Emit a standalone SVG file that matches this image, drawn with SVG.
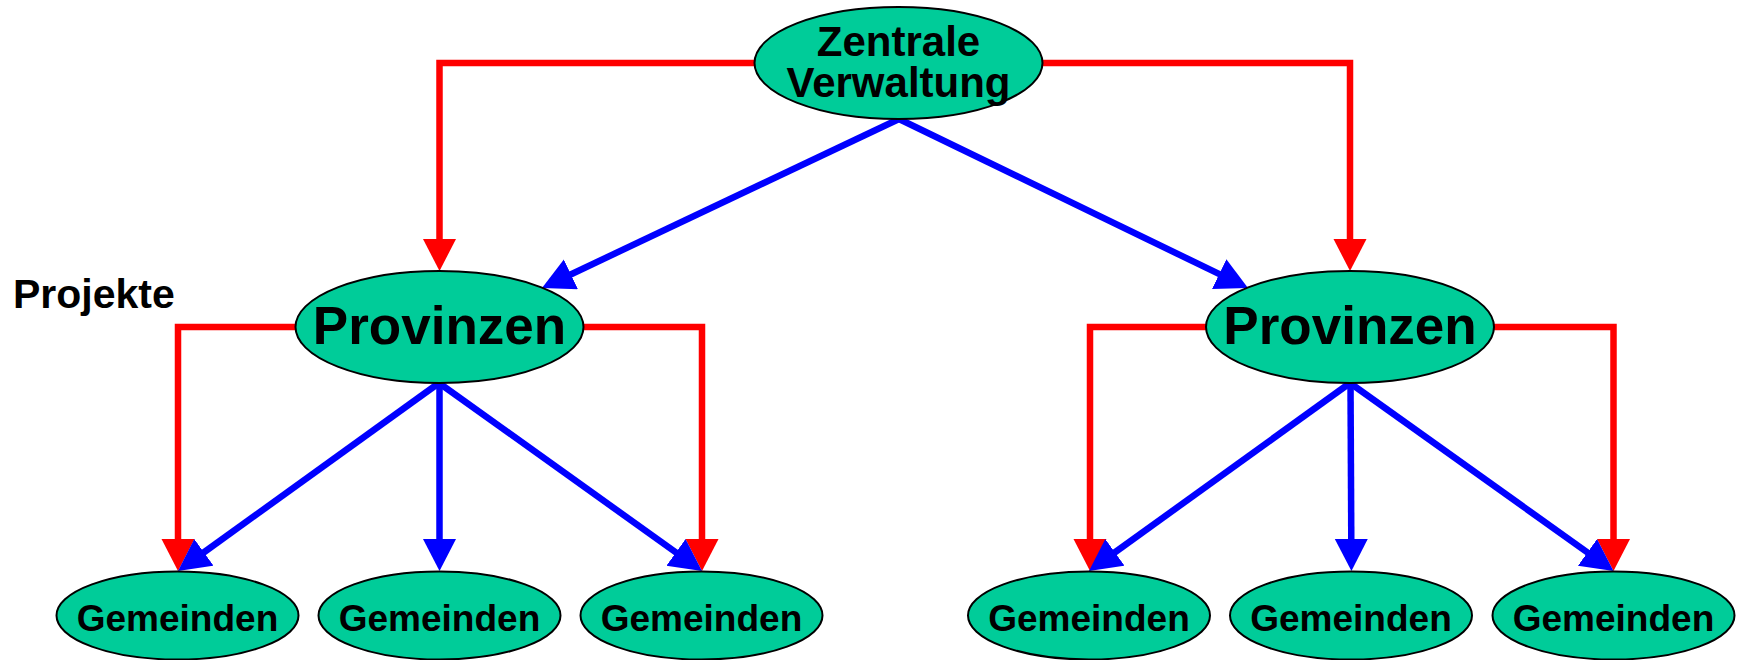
<svg xmlns="http://www.w3.org/2000/svg" width="1738" height="660" viewBox="0 0 1738 660">
<defs>
<style>
.node{fill:#00CC99;stroke:#000;stroke-width:2}
.t{font-family:"Liberation Sans",Arial,sans-serif;font-weight:bold;fill:#000;text-anchor:middle}
.red{fill:none;stroke:#FF0000;stroke-width:6.5}
.blue{fill:none;stroke:#0000FF;stroke-width:6.5}
</style>
<marker id="ar" markerUnits="userSpaceOnUse" markerWidth="34" markerHeight="34" refX="2" refY="16.5" orient="auto" viewBox="0 0 34 34">
<path d="M0,0 L32,16.5 L0,33 z" fill="#FF0000"/>
</marker>
<marker id="ab" markerUnits="userSpaceOnUse" markerWidth="34" markerHeight="34" refX="2" refY="16.5" orient="auto" viewBox="0 0 34 34">
<path d="M0,0 L32,16.5 L0,33 z" fill="#0000FF"/>
</marker>
</defs>
<rect width="1738" height="660" fill="#fff"/>
<g id="connectors">
<path class="red" d="M760,63 H439.5 V241" marker-end="url(#ar)"/>
<path class="red" d="M1037,63 H1350 V241" marker-end="url(#ar)"/>
<path class="red" d="M300,327 H178 V541" marker-end="url(#ar)"/>
<path class="red" d="M578,327 H702 V541" marker-end="url(#ar)"/>
<path class="red" d="M1212,327 H1090 V541" marker-end="url(#ar)"/>
<path class="red" d="M1488,327 H1613.5 V541" marker-end="url(#ar)"/>
<path class="blue" d="M899,119 L569.1,275.2" marker-end="url(#ab)"/>
<path class="blue" d="M899,119 L1221,274.9" marker-end="url(#ab)"/>
<path class="blue" d="M439,383 L202.3,553.5" marker-end="url(#ab)"/>
<path class="blue" d="M439.5,383 L439.5,541" marker-end="url(#ab)"/>
<path class="blue" d="M439,383 L677.6,553.6" marker-end="url(#ab)"/>
<path class="blue" d="M1350,383 L1113.3,553.5" marker-end="url(#ab)"/>
<path class="blue" d="M1350.5,383 L1351.3,541" marker-end="url(#ab)"/>
<path class="blue" d="M1350,383 L1589.1,553.6" marker-end="url(#ab)"/>
</g>
<g id="zentrale">
<ellipse class="node" cx="898.5" cy="63" rx="144" ry="56"/>
<text class="t" x="898.5" y="56" font-size="42">Zentrale</text>
<text class="t" x="898.5" y="97" font-size="42">Verwaltung</text>
</g>
<g id="provinzen1">
<ellipse class="node" cx="439.5" cy="327" rx="144" ry="56"/>
<text class="t" x="439.5" y="344" font-size="53">Provinzen</text>
</g>
<g id="provinzen2">
<ellipse class="node" cx="1350" cy="327" rx="144" ry="56"/>
<text class="t" x="1350" y="344" font-size="53">Provinzen</text>
</g>
<g id="gemeinden1">
<ellipse class="node" cx="177.5" cy="615.5" rx="121" ry="44"/>
<text class="t" x="177.5" y="631" font-size="37">Gemeinden</text>
</g>
<g id="gemeinden2">
<ellipse class="node" cx="439.5" cy="615.5" rx="121" ry="44"/>
<text class="t" x="439.5" y="631" font-size="37">Gemeinden</text>
</g>
<g id="gemeinden3">
<ellipse class="node" cx="701.5" cy="615.5" rx="121" ry="44"/>
<text class="t" x="701.5" y="631" font-size="37">Gemeinden</text>
</g>
<g id="gemeinden4">
<ellipse class="node" cx="1089" cy="615.5" rx="121" ry="44"/>
<text class="t" x="1089" y="631" font-size="37">Gemeinden</text>
</g>
<g id="gemeinden5">
<ellipse class="node" cx="1351" cy="615.5" rx="121" ry="44"/>
<text class="t" x="1351" y="631" font-size="37">Gemeinden</text>
</g>
<g id="gemeinden6">
<ellipse class="node" cx="1613.5" cy="615.5" rx="121" ry="44"/>
<text class="t" x="1613.5" y="631" font-size="37">Gemeinden</text>
</g>
<g id="projekte">
<text class="t" x="13" y="308" font-size="41" text-anchor="start" style="text-anchor:start">Projekte</text>
</g>
</svg>
